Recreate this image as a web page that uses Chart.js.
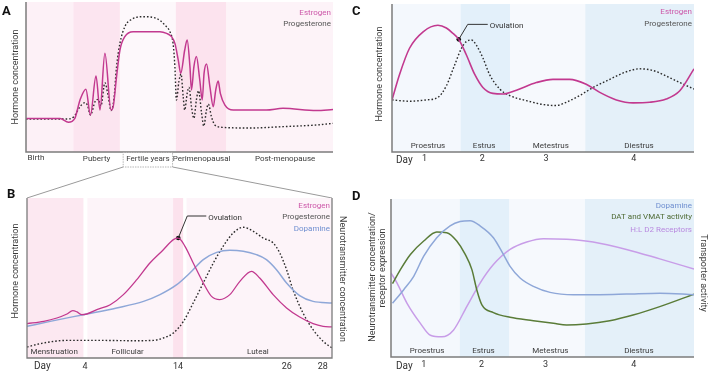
<!DOCTYPE html>
<html><head><meta charset="utf-8">
<script src="https://cdn.jsdelivr.net/npm/chart.js@4.4.1/dist/chart.umd.min.js"></script>
<style>
html,body{margin:0;padding:0;background:#fff;}
#wrap{position:relative;width:709px;height:373px;overflow:hidden;}
canvas{position:absolute;left:0;top:0;}
</style></head><body>
<div id="wrap">
<canvas id="cA" width="709" height="373"></canvas>
<canvas id="cB" width="709" height="373"></canvas>
<canvas id="cC" width="709" height="373"></canvas>
<canvas id="cD" width="709" height="373"></canvas>
</div>
<script>
// ---------- DATA ----------
// Panel A: life span (x = relative position 0..100, y = relative level 0..100)
const lifeStages = ['Birth','Puberty','Fertile years','Perimenopausal','Post-menopause'];
const lifeBandEdges = [0,15.4,30.6,48.8,65.3,100];
const lifeLabelPos = [0.5,23,39.7,57.2,84.4];
const estrogenA = [[0,22.4],[11.1,22.4],[13.8,19.8],[15.9,22.4],[17.6,34.7],[19.5,41.8],[21.0,24.7],[22.8,50.7],[24.1,28],[25.7,65.8],[27.7,28],[28.4,30.2],[29.5,50.2],[30.6,68],[32.2,76.9],[34.9,80.2],[43.6,80.2],[45.8,79.1],[47.4,76.9],[48.5,72.4],[49.6,61.3],[50.4,52.4],[51.7,68],[52.5,74.7],[53.4,56.9],[53.9,41.3],[54.7,56.9],[55.5,63.6],[56.6,48],[57.4,34.7],[58.0,52.4],[58.8,58.7],[59.9,43.6],[61.0,30.2],[61.8,41.3],[62.6,47.3],[63.3,39.1],[64.8,31.3],[67.5,28],[78.3,28],[83.7,29.1],[94.6,27.6],[100,28.4]];
const progesteroneA = [[0,22],[13.2,22],[15.6,23.6],[17.6,30.2],[19.2,32.9],[20.0,31.3],[21.0,24.7],[22.5,33.6],[23.5,35.1],[24.4,30.7],[25.7,46.2],[26.8,36.9],[27.7,27.6],[28.6,34.7],[29.5,56.9],[30.6,72.4],[32.2,83.6],[34.4,88.4],[38.2,90.2],[42.5,89.1],[45.2,84.7],[47.1,79.1],[47.9,72.4],[48.5,56.9],[49.0,34.7],[49.8,46.9],[50.5,52],[51.2,36.9],[51.7,28],[52.5,39.1],[53.1,43.1],[53.9,30.2],[54.7,22.4],[55.5,34.7],[56.2,40.9],[57.2,25.8],[57.9,17.3],[58.8,28],[59.4,32],[60.4,23.6],[61.5,18],[64.2,16.4],[72.9,16],[83.7,16.9],[94.6,18],[100,19.1]];

// Panel B: menstrual cycle
const menstrualPhases = ['Menstruation','Follicular','Luteal'];
const menstrualPhasePos = [8.9,33,75.7];
const menstrualBands = [[0,18.5],[19.8,47.9],[47.9,51.2],[52.3,100]];
const cycleDayLabels = ['4','14','26','28'];
const cycleDayPos = [19,49.5,85.2,97];
const estrogenB = [[0,21.5],[5.5,22.9],[9.8,25],[13.1,27.5],[15.0,29.6],[16.4,28.8],[18.0,27.1],[19.6,27.5],[22.9,30.2],[27.3,33.3],[31.6,39.6],[36.0,49],[40.3,59.4],[44.7,67.7],[48.0,74],[49.6,75],[51.8,69.8],[54.5,59.4],[57.8,46.9],[60.5,38.5],[63.2,36.5],[66.5,39.6],[69.8,47.9],[73.6,54.2],[76.3,50],[80.7,39.6],[85.1,31.3],[89.4,25.6],[93.8,21.5],[97.1,19.8],[100,19.4]];
const dopamineB = [[0,19.8],[7.6,22.9],[18.5,27.1],[29.4,31.3],[38.2,35.4],[43.6,39.6],[49.1,45.8],[53.4,53.1],[57.8,61.5],[62.2,66],[66.5,67.3],[70.9,66.7],[75.2,64.6],[78.5,61.5],[81.8,55.2],[85.1,46.9],[89.4,39],[93.8,35.4],[100,34.4]];
const progesteroneB = [[0,6.9],[5.5,9.4],[13.1,11],[24,11],[34.9,10.8],[41.4,11],[44.7,12.5],[48,15.6],[51.3,22.9],[54.5,34.4],[57.8,46.9],[61.1,59.4],[64.3,69.8],[67.6,78.1],[70.9,81.7],[74.2,79.2],[77.4,75],[80.7,71.9],[82.9,65.6],[85.1,55.2],[87.2,42.7],[90.5,28.1],[93.8,17.7],[97.1,10.4],[100,6.3]];
const ovulationB = [[49.6,75]];

// Panels C and D: estrous cycle
const estrousPhases = ['Proestrus','Estrus','Metestrus','Diestrus'];
const estrousPhasePos = [11.9,30.5,52.6,81.8];
const estrousBandEdges = [0,22.7,39.1,64,100];
const estrousDayLabels = ['1','2','3','4'];
const estrousDayPos = [10.8,29.9,51,80.1];
const estrogenC = [[0,35.2],[2.5,52.4],[5.8,70.1],[10.3,81.2],[15.2,85.6],[18,83.8],[20.2,80.1],[22.1,76.1],[24.6,65.7],[27.4,52.4],[30.1,43.6],[33.4,39.6],[36.8,39.2],[41.2,41.8],[47.8,46.9],[53.3,49.1],[58.8,49.1],[64.3,45.8],[68.8,40.3],[74.3,35.2],[79.8,33.2],[85.3,33.6],[90.8,35.8],[95.3,41.4],[100,56.2]];
const progesteroneC = [[0,35.2],[5.8,34.3],[11.4,35.2],[15.2,36.9],[18,44.7],[20.8,59.1],[23,70.1],[24.6,74.6],[26.3,75.7],[27.9,72.3],[30.1,63.5],[32.3,52.4],[35.7,42.5],[39,38.1],[44.5,34.7],[50,32.1],[54.4,31.4],[57.7,33.6],[62.1,38.1],[66.6,43.6],[72.1,49.1],[77.6,54.2],[82,56.2],[86.4,55.1],[90.8,51.3],[95.3,46.9],[100,42.5]];
const ovulationC = [[22.1,76.1]];
const dopamineD = [[0.5,34],[4.2,42.6],[7.5,51.1],[10.8,63.8],[15.1,75.5],[19.5,83],[22.8,85.7],[26.1,86.2],[29.4,83],[33.8,75.5],[37.1,64.9],[39.3,57.4],[42.6,50],[47,44.7],[52.5,40.9],[60.2,39.4],[68.9,39.4],[77.7,39.8],[88.7,40.4],[100,39.4]];
const datVmatD = [[0.5,46.4],[3.1,55.3],[6.4,64.9],[10.8,73.4],[15.1,79.1],[18.4,78.7],[21.7,73.4],[24.5,64.9],[26.7,55.3],[28.3,42.6],[30,33],[33.8,28.1],[39.3,25.1],[47,23],[53.6,21.3],[58,20.2],[64.5,20.9],[72.2,23],[79.9,26.6],[88.7,31.9],[100,39.8]];
const d2ReceptorsD = [[0,53.2],[2,46.8],[5.3,34],[9.7,21.3],[13,13.8],[16.8,12.8],[20.6,17],[25,31.9],[29.4,46.8],[33.8,58.5],[39.3,68.1],[44.8,72.8],[50.3,74.9],[58,74.5],[66.7,72.8],[77.7,68.1],[88.7,62.1],[100,55.7]];

// ---------- STYLE / LAYOUT ----------
const W = 709, H = 373;
const FONT = 'Roboto, "Liberation Sans", sans-serif';
const COL = {
  estro:'#c2398f', estroTxt:'#cc56a8',
  prog:'#2a2a2a', progTxt:'#555555',
  dopa:'#8ea7d8', dopaTxt:'#6f8fd0',
  dat:'#5a7c38', datTxt:'#4e6a34',
  d2:'#c89de8', d2Txt:'#b98ae0',
  axis:'#7c7c7c', text:'#3c3c3c'
};
const areas = {
  A:{l:26,t:2,r:333,b:152},
  B:{l:27,t:198,r:332,b:358},
  C:{l:392,t:2,r:694,b:152},
  D:{l:391,t:199,r:694,b:357}
};

const pts = arr => arr.map(p => ({x:p[0], y:p[1]}));

function txt(ctx, s, x, y, o){
  o = o || {};
  ctx.save();
  ctx.font = (o.weight||'normal') + ' ' + (o.size||8) + 'px ' + FONT;
  ctx.fillStyle = o.color || COL.text;
  ctx.textAlign = o.align || 'center';
  ctx.textBaseline = o.base || 'middle';
  ctx.translate(x, y);
  if (o.rot) ctx.rotate(o.rot);
  ctx.fillText(s, 0, 0);
  ctx.restore();
}
function line(ctx, xs, ys, color, w, dash){
  ctx.save();
  ctx.strokeStyle = color; ctx.lineWidth = w || 1;
  if (dash) ctx.setLineDash(dash);
  ctx.beginPath();
  ctx.moveTo(xs[0], ys[0]);
  for (let i=1;i<xs.length;i++) ctx.lineTo(xs[i], ys[i]);
  ctx.stroke();
  ctx.restore();
}
function bands(c, ranges, colors){
  const ctx = c.ctx, xs = c.scales.x, a = c.chartArea;
  ranges.forEach((r,i) => {
    const x0 = xs.getPixelForValue(r[0]), x1 = xs.getPixelForValue(r[1]);
    ctx.fillStyle = colors[i];
    ctx.fillRect(x0, a.top, x1-x0, a.bottom-a.top);
  });
}
const edgesToRanges = e => e.slice(0,-1).map((v,i)=>[v,e[i+1]]);

function lineDs(data, color, opts){
  return Object.assign({data:pts(data), borderColor:color, borderWidth:1.5, pointRadius:0,
    fill:false, cubicInterpolationMode:'monotone'}, opts||{});
}
function dotDs(data){
  return {data:pts(data), showLine:false, pointRadius:2.3, pointBackgroundColor:'#111', pointBorderWidth:0};
}
const dotted = {borderDash:[1.6,2], borderWidth:1.4};

function makeChart(id, area, datasets, deco){
  return new Chart(document.getElementById(id), {
    type:'line',
    data:{datasets},
    options:{
      responsive:false, animation:false, devicePixelRatio:1, events:[],
      layout:{padding:{left:area.l, top:area.t, right:W-area.r, bottom:H-area.b}},
      plugins:{legend:{display:false}, tooltip:{enabled:false}, title:{display:false}},
      scales:{
        x:{type:'linear', min:0, max:100, display:false},
        y:{type:'linear', min:0, max:100, display:false}
      }
    },
    plugins:[{id:'deco'+id,
      beforeDatasetsDraw(c){ deco.before && deco.before(c); },
      afterDatasetsDraw(c){ deco.after && deco.after(c); }
    }]
  });
}

function callout(c, pt, dx1, dy1, len, label){
  const ctx = c.ctx;
  const px = c.scales.x.getPixelForValue(pt[0]), py = c.scales.y.getPixelForValue(pt[1]);
  line(ctx, [px, px+dx1, px+dx1+len], [py, py+dy1, py+dy1], '#333', 1);
  txt(ctx, label, px+dx1+len+2, py+dy1+1.5, {align:'left', size:8, color:'#333'});
}

// ---------- PANEL A ----------
makeChart('cA', areas.A, [
  lineDs(estrogenA, COL.estro),
  lineDs(progesteroneA, COL.prog, dotted)
], {
  before(c){
    bands(c, edgesToRanges(lifeBandEdges), ['#fdf1f7','#fce5f0','#fdf8fb','#fce3ee','#fdf3f8']);
  },
  after(c){
    const ctx = c.ctx, a = c.chartArea, xs = c.scales.x;
    line(ctx, [a.left, a.left, a.right], [a.top, a.bottom, a.bottom], COL.axis, 1.5);
    lifeStages.forEach((s,i) => {
      const x = xs.getPixelForValue(lifeLabelPos[i]);
      txt(ctx, s, x, a.bottom + (i===0 ? 6 : 7), {align: i===0?'left':'center', size:8});
    });
    // box around the fertile years label + zoom lines to panel B
    ctx.save();
    ctx.font = '8px ' + FONT;
    const fx = xs.getPixelForValue(lifeLabelPos[2]);
    const fw = ctx.measureText(lifeStages[2]).width + 6;
    ctx.restore();
    const bx0 = fx - fw/2, bx1 = fx + fw/2, by1 = a.bottom + 15;
    ctx.save();
    ctx.strokeStyle = '#b5b5b5'; ctx.lineWidth = 1; ctx.setLineDash([1.5,1]);
    ctx.strokeRect(bx0, a.bottom+0.5, fw, 14.5);
    ctx.restore();
    line(ctx, [bx0, areas.B.l], [by1, areas.B.t], '#9a9a9a', 1);
    line(ctx, [bx1, areas.B.r], [by1, areas.B.t], '#9a9a9a', 1);
    txt(ctx, 'Estrogen', a.right-2, 13, {align:'right', color:COL.estroTxt});
    txt(ctx, 'Progesterone', a.right-2, 24, {align:'right', color:COL.progTxt});
    txt(ctx, 'Hormone concentration', 16, 77, {size:9, rot:-Math.PI/2});
    txt(ctx, 'A', 2, 15, {align:'left', base:'alphabetic', size:13, weight:'bold', color:'#111'});
  }
});

// ---------- PANEL B ----------
makeChart('cB', areas.B, [
  lineDs(estrogenB, COL.estro, {borderWidth:1.3}),
  lineDs(dopamineB, COL.dopa, {borderWidth:1.5}),
  lineDs(progesteroneB, COL.prog, dotted),
  dotDs(ovulationB)
], {
  before(c){
    bands(c, menstrualBands, ['#fce8f1','#fdf4f9','#fce2ed','#fdf4f9']);
  },
  after(c){
    const ctx = c.ctx, a = c.chartArea, xs = c.scales.x;
    line(ctx, [a.left, a.left, a.right, a.right], [a.top, a.bottom, a.bottom, a.top], COL.axis, 1.3);
    menstrualPhases.forEach((s,i) => txt(ctx, s, xs.getPixelForValue(menstrualPhasePos[i]), a.bottom-6, {size:8}));
    txt(ctx, 'Day', 34, a.bottom+8, {align:'left', size:10, color:'#333'});
    cycleDayLabels.forEach((s,i) => txt(ctx, s, xs.getPixelForValue(cycleDayPos[i]), a.bottom+9, {size:9, color:'#333'}));
    txt(ctx, 'Estrogen', a.right-2, 206, {align:'right', color:COL.estroTxt});
    txt(ctx, 'Progesterone', a.right-2, 217, {align:'right', color:COL.progTxt});
    txt(ctx, 'Dopamine', a.right-2, 229, {align:'right', color:COL.dopaTxt});
    txt(ctx, 'Hormone concentration', 16, 271, {size:9, rot:-Math.PI/2});
    txt(ctx, 'Neurotransmitter concentration', 342, 279, {size:9, rot:Math.PI/2});
    callout(c, ovulationB[0], 9, -22, 19, 'Ovulation');
    txt(ctx, 'B', 7, 198, {align:'left', base:'alphabetic', size:13, weight:'bold', color:'#111'});
  }
});

const estrousColors = ['#f4f8fd','#e3f0fa','#f6f9fd','#e4f0f9'];

// ---------- PANEL C ----------
makeChart('cC', areas.C, [
  lineDs(estrogenC, COL.estro, {borderWidth:1.6}),
  lineDs(progesteroneC, COL.prog, dotted),
  dotDs(ovulationC)
], {
  before(c){ bands(c, edgesToRanges(estrousBandEdges), estrousColors); },
  after(c){
    const ctx = c.ctx, a = c.chartArea, xs = c.scales.x;
    line(ctx, [a.left, a.left, a.right], [a.top, a.bottom, a.bottom], COL.axis, 1.5);
    estrousPhases.forEach((s,i) => txt(ctx, s, xs.getPixelForValue(estrousPhasePos[i]), a.bottom-6, {size:8}));
    txt(ctx, 'Day', 396, a.bottom+8, {align:'left', size:10, color:'#333'});
    estrousDayLabels.forEach((s,i) => txt(ctx, s, xs.getPixelForValue(estrousDayPos[i]), a.bottom+7, {size:9, color:'#333'}));
    txt(ctx, 'Estrogen', a.right-2, 12, {align:'right', color:COL.estroTxt});
    txt(ctx, 'Progesterone', a.right-2, 24, {align:'right', color:COL.progTxt});
    txt(ctx, 'Hormone concentration', 380, 74, {size:9, rot:-Math.PI/2});
    callout(c, ovulationC[0], 9, -15, 20, 'Ovulation');
    txt(ctx, 'C', 352, 15, {align:'left', base:'alphabetic', size:13, weight:'bold', color:'#111'});
  }
});

// ---------- PANEL D ----------
makeChart('cD', areas.D, [
  lineDs(dopamineD, COL.dopa),
  lineDs(datVmatD, COL.dat),
  lineDs(d2ReceptorsD, COL.d2)
], {
  before(c){ bands(c, edgesToRanges(estrousBandEdges), estrousColors); },
  after(c){
    const ctx = c.ctx, a = c.chartArea, xs = c.scales.x;
    line(ctx, [a.left, a.left, a.right], [a.top, a.bottom, a.bottom], COL.axis, 1.5);
    estrousPhases.forEach((s,i) => txt(ctx, s, xs.getPixelForValue(estrousPhasePos[i]), a.bottom-6, {size:8}));
    txt(ctx, 'Day', 396, a.bottom+9, {align:'left', size:10, color:'#333'});
    estrousDayLabels.forEach((s,i) => txt(ctx, s, xs.getPixelForValue(estrousDayPos[i]), a.bottom+8, {size:9, color:'#333'}));
    txt(ctx, 'Dopamine', a.right-2, 206, {align:'right', color:COL.dopaTxt});
    txt(ctx, 'DAT and VMAT activity', a.right-2, 217, {align:'right', color:COL.datTxt});
    txt(ctx, 'H:L D2 Receptors', a.right-2, 230, {align:'right', color:COL.d2Txt});
    txt(ctx, 'Neurotransmitter concentration/', 373, 277, {size:9, rot:-Math.PI/2});
    txt(ctx, 'receptor expression', 383, 268, {size:9, rot:-Math.PI/2});
    txt(ctx, 'Transporter activity', 703, 273, {size:9, rot:Math.PI/2});
    txt(ctx, 'D', 352, 200, {align:'left', base:'alphabetic', size:13, weight:'bold', color:'#111'});
  }
});
</script>
</body></html>
